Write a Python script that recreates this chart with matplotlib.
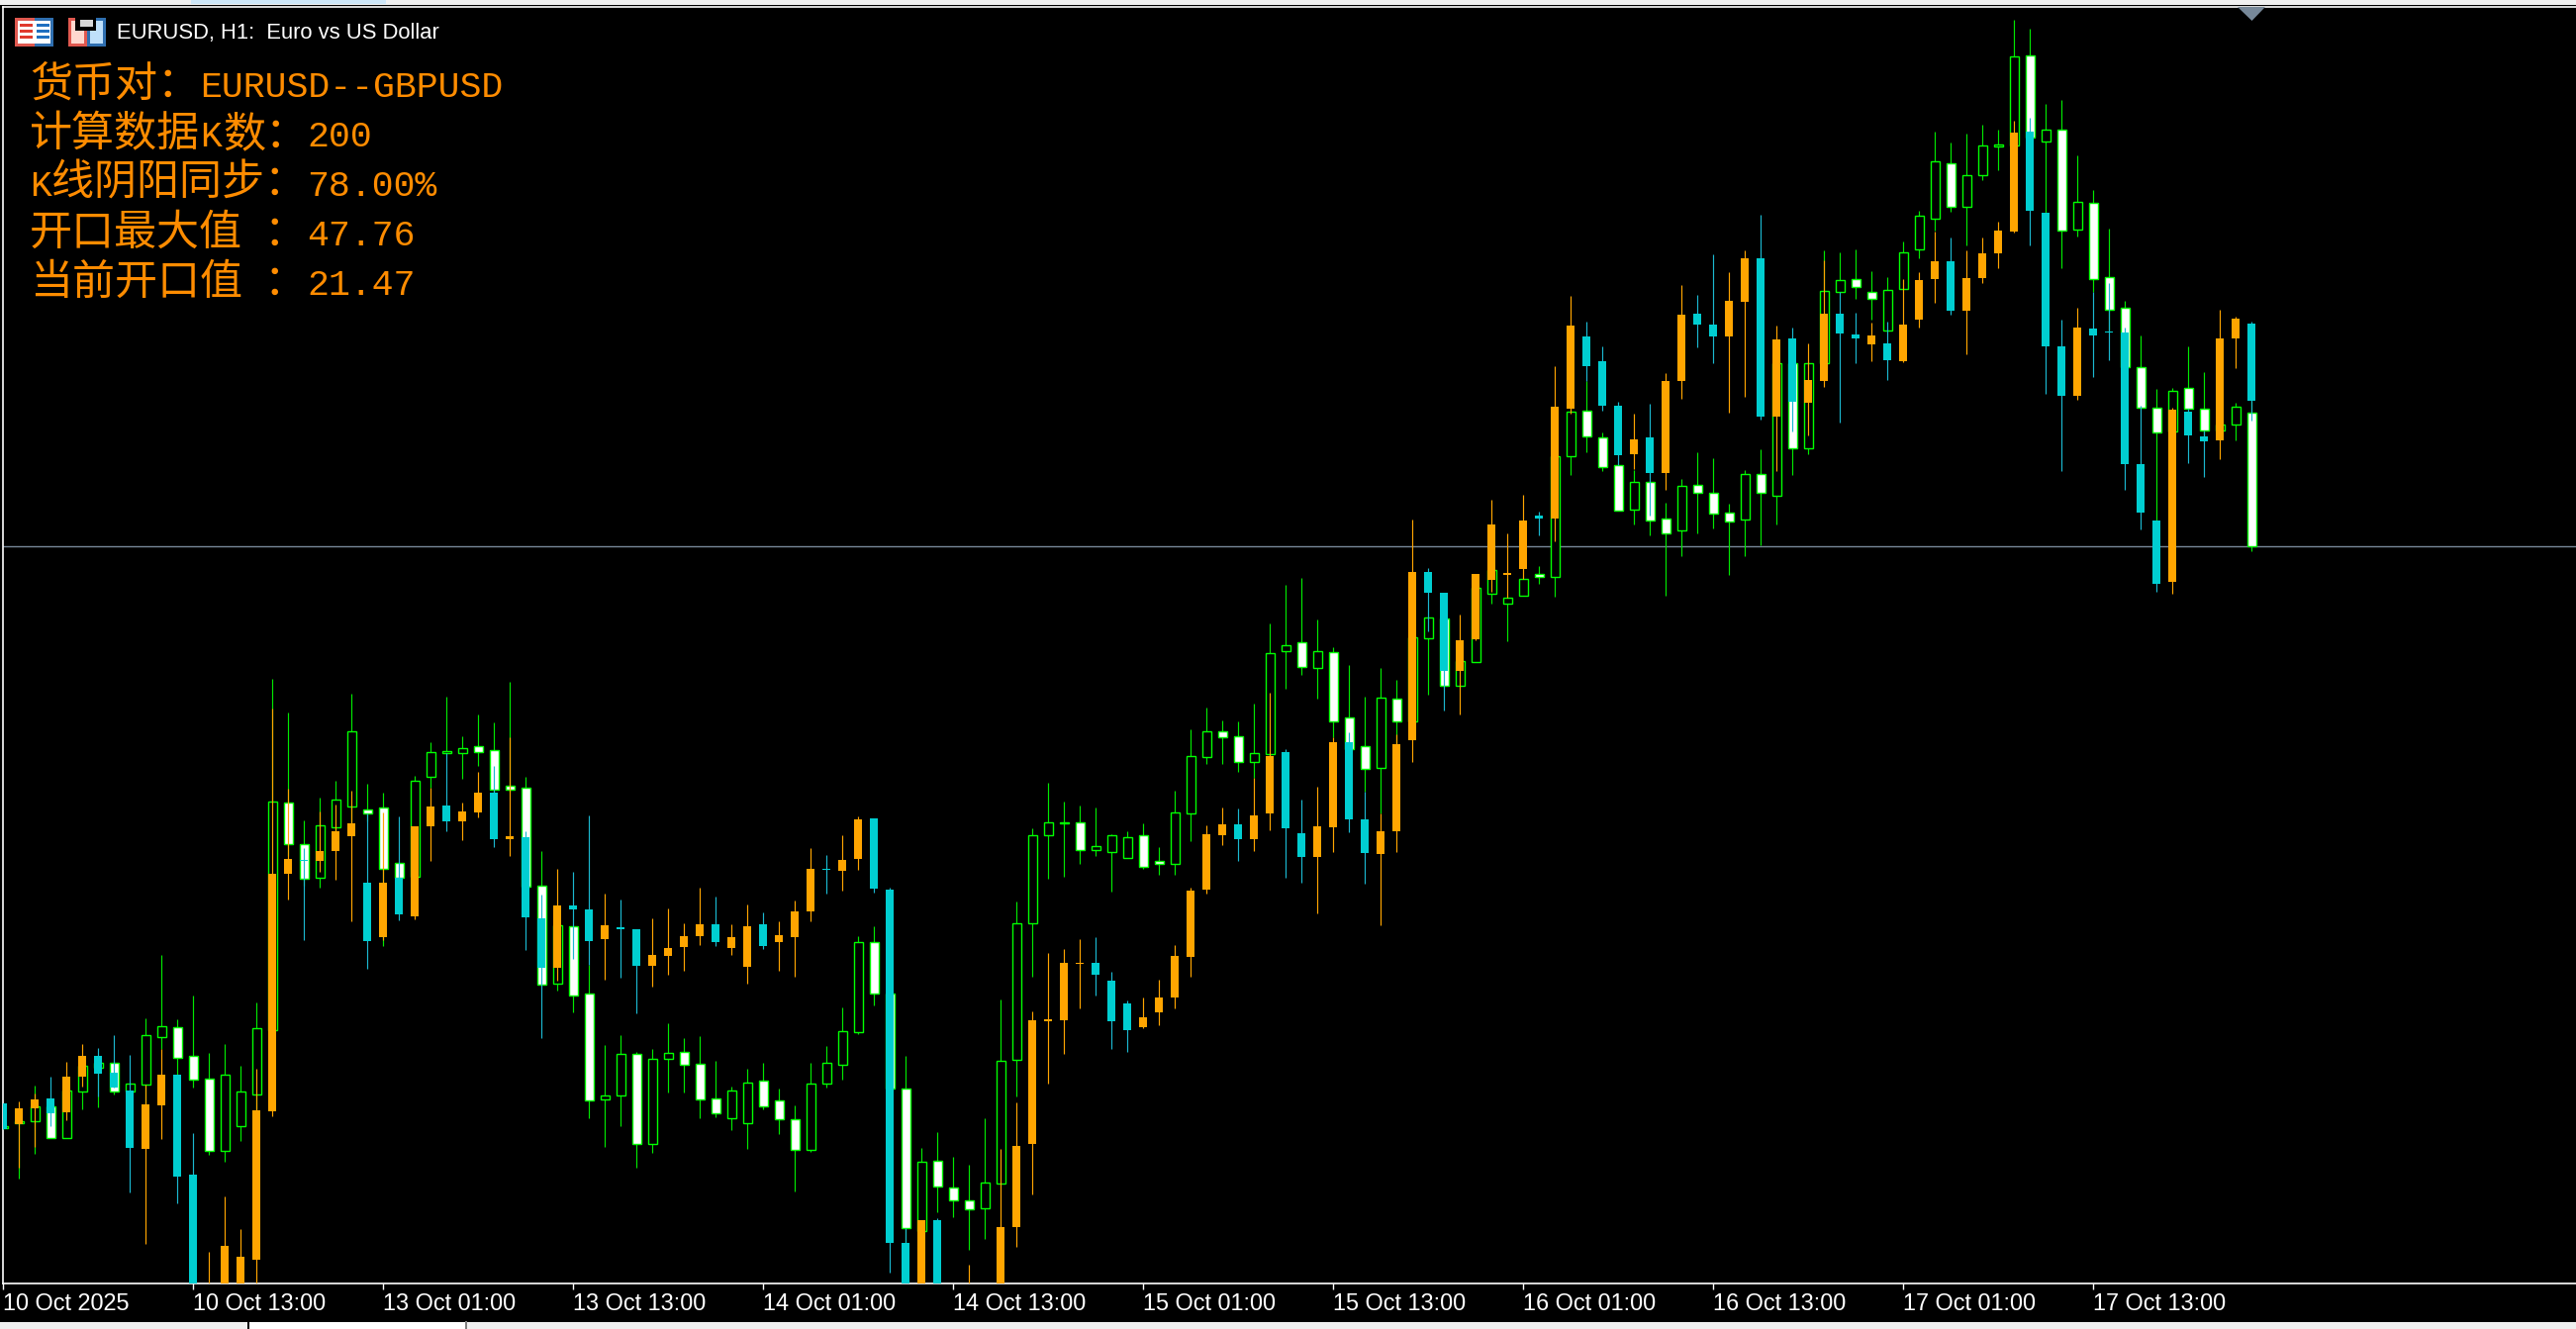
import matplotlib
matplotlib.use("Agg")
import matplotlib.pyplot as plt
from matplotlib.patches import Rectangle, Polygon

# levels are read off the screenshot, it has no price scale (smaller = higher on chart)
eur_dir = ("HHHWHHHWHH" "HWWWHHHHWW" "HHHWWWHHHH" "WWWWWHWWHH" "WHHWWWHHWW" "WHHHHWWWHW" "WWHHHHHHWH"
           "HHWWHHHWWH" "HHWHWWWHWH" "HWHHHHHWHH" "WWWHWWHWWW" "HWHWHHHWWH" "HHHWHHHHWH" "WHWWWWWHWW" "HHW")
eur_top = [1138,1133,1118,1118,1102,1077,1074,1074,1095,1046,
           1037,1038,1067,1090,1086,1103,1039,810,811,853,
           834,808,739,818,816,872,789,760,759,756,
           754,758,794,796,895,935,936,1004,1107,1065,
           1065,1070,1064,1063,1075,1110,1102,1094,1092,1112,
           1131,1095,1074,1042,952,952,1004,1100,1174,1173,
           1200,1213,1195,1072,933,844,831,831,831,855,
           844,846,844,870,821,764,739,739,744,761,
           660,652,649,658,659,725,754,705,706,644,
           624,625,668,594,576,604,585,580,461,416,
           415,442,470,487,487,524,491,490,498,518,
           479,479,367,367,367,294,283,282,295,293,
           255,218,163,165,177,147,146,57,56,131,
           131,204,205,280,311,371,412,395,392,413,
           429,411,417]
eur_bot = [1140,1135,1133,1150,1150,1103,1079,1103,1103,1096,
           1048,1069,1091,1163,1163,1138,1106,1041,853,888,
           887,836,815,822,878,887,886,785,761,761,
           760,798,798,896,995,994,1006,1112,1111,1107,
           1156,1156,1070,1076,1111,1125,1130,1135,1118,1131,
           1162,1162,1095,1076,1043,1004,1100,1241,1244,1199,
           1213,1222,1221,1196,1071,933,844,832,859,859,
           861,867,876,873,873,822,765,745,770,770,
           762,658,674,675,729,757,777,776,729,729,
           645,693,693,669,600,610,602,583,583,461,
           441,472,516,515,526,539,536,498,519,527,
           525,498,501,453,453,367,295,290,302,334,
           292,252,221,209,209,177,148,147,139,143,
           233,232,282,313,371,412,437,436,413,435,
           435,429,552]
eur_high = [1138,1133,1097,1118,1102,1077,1074,1074,1095,1029,
            965,1030,1006,1064,1055,1077,1013,686,720,829,
            806,789,701,792,801,872,784,750,704,744,
            722,730,689,785,860,935,936,975,1056,1046,
            1063,1060,1034,1049,1047,1072,1098,1080,1074,1100,
            1117,1074,1057,1018,946,936,1004,1067,1160,1144,
            1169,1177,1130,1010,911,837,791,810,814,816,
            843,840,832,856,799,737,715,728,729,711,
            630,591,584,626,654,672,704,675,687,644,
            624,625,668,594,576,604,585,572,461,416,
            385,437,470,475,487,508,484,457,463,509,
            475,454,367,367,367,253,255,252,274,280,
            244,213,133,144,135,126,131,20,29,105,
            101,157,192,231,304,339,393,392,350,376,
            429,407,405]
eur_low = [1140,1191,1166,1150,1150,1121,1119,1106,1103,1116,
           1060,1086,1099,1167,1174,1153,1122,1041,865,895,
           897,840,832,830,956,887,886,796,761,787,
           774,801,800,896,995,1001,1023,1130,1159,1138,
           1180,1165,1104,1104,1130,1129,1142,1161,1121,1146,
           1204,1164,1099,1091,1045,1016,1100,1256,1244,1225,
           1230,1263,1252,1196,1108,987,888,886,873,865,
           901,867,878,884,884,850,772,772,780,786,
           764,696,682,706,745,757,800,822,752,729,
           702,693,693,669,610,648,602,590,603,480,
           457,476,516,530,541,602,562,539,534,581,
           562,551,530,480,459,367,295,302,323,334,
           292,261,233,214,248,182,172,147,139,215,
           271,239,295,336,372,412,526,436,413,441,
           435,445,557]

gbp_dir = ("COOCOOCCCO" "OCCOOOOOOC" "OOOCOCOOCO" "OCOCCOCCOC" "COOOOCOOCO" "OOCOOCCCOC" "OOOOOOOOOC"
           "CCOOOOOOCO" "OCCOOCCOOO" "CCOOOOOCOO" "CCCOCOOCCO" "OCOCOOCCOC" "OOOCOOOOCC" "COCCCCCOCC" "OOC")
gbp_top = [1115,1120,1111,1110,1088,1067,1067,1084,1102,1116,
           1086,1086,1187,1310,1259,1270,1122,883,868,869,
           860,840,832,892,892,887,835,815,814,820,
           801,801,845,846,928,915,915,919,935,937,
           939,965,958,946,934,934,947,936,934,945,
           921,878,878,869,828,827,899,1256,1233,1233,
           1310,1300,1310,1240,1158,1031,1030,973,973,973,
           991,1014,1028,1008,966,900,843,833,833,824,
           764,760,842,835,750,750,828,840,752,578,
           578,599,647,580,530,579,526,521,411,329,
           340,365,410,444,442,385,318,317,328,304,
           261,261,343,342,384,317,317,338,339,347,
           328,283,264,264,281,256,233,134,133,215,
           350,331,332,335,336,469,526,414,416,441,
           342,322,327]
gbp_bot = [1141,1136,1120,1125,1124,1088,1085,1099,1160,1161,
           1117,1189,1320,1330,1330,1330,1273,1123,883,870,
           870,860,845,951,947,924,926,835,830,830,
           821,848,848,927,978,978,919,951,949,939,
           976,976,966,957,946,952,958,977,956,952,
           947,921,879,880,868,898,1256,1330,1330,1330,
           1330,1330,1330,1330,1240,1156,1032,1031,974,985,
           1032,1041,1038,1023,1008,967,899,844,848,848,
           822,837,866,866,836,828,862,863,840,748,
           599,678,678,646,586,581,575,524,524,413,
           370,410,460,459,478,478,385,328,340,340,
           305,421,421,406,407,385,337,342,348,364,
           365,323,282,314,314,281,256,234,213,350,
           400,400,339,336,469,518,590,588,440,446,
           445,342,405]
gbp_high = [1115,1113,1105,1088,1073,1055,1059,1046,1066,1096,
            1060,1086,1145,1265,1209,1242,1080,716,797,857,
            820,813,799,822,821,825,835,796,761,811,
            780,774,745,840,904,878,881,824,903,909,
            939,928,918,933,897,906,934,914,922,931,
            910,857,864,844,825,827,897,1241,1233,1231,
            1305,1278,1305,1161,1114,1022,963,959,949,947,
            982,1011,1008,990,955,897,834,816,817,786,
            700,757,808,795,745,740,800,822,742,525,
            574,599,621,580,505,539,500,517,370,299,
            325,350,406,418,408,377,288,298,257,275,
            253,217,329,331,347,263,295,316,326,325,
            282,275,234,240,253,240,224,122,119,215,
            323,311,295,286,331,410,526,412,413,435,
            313,320,325]
gbp_low = [1141,1180,1159,1138,1132,1098,1108,1099,1205,1257,
           1151,1216,1340,1340,1340,1340,1320,1128,909,950,
           881,889,931,979,950,930,929,870,840,849,
           826,856,865,960,1049,991,969,975,990,988,
           1024,997,985,981,955,956,965,994,959,981,
           987,931,903,900,879,902,1286,1340,1340,1340,
           1340,1340,1340,1340,1260,1207,1095,1065,1019,1006,
           1060,1063,1039,1036,1019,987,903,854,870,860,
           839,887,892,923,861,841,893,935,861,770,
           638,718,722,647,598,604,585,541,547,418,
           385,415,470,474,521,495,403,351,367,417,
           401,424,476,436,440,391,427,367,365,384,
           366,331,306,318,358,286,271,235,248,398,
           476,404,381,364,495,535,598,600,468,482,
           464,372,425]

bid_level = 552
tick_idx = [0, 12, 24, 36, 48, 60, 72, 84, 96, 108, 120, 132]
tick_labels = ["10 Oct 2025", "10 Oct 13:00", "13 Oct 01:00", "13 Oct 13:00", "14 Oct 01:00", "14 Oct 13:00",
               "15 Oct 01:00", "15 Oct 13:00", "16 Oct 01:00", "16 Oct 13:00", "17 Oct 01:00", "17 Oct 13:00"]

W, H = 2603, 1343
SLATE = "#778899"
TEXT_ORANGE = "#FF8C00"
CJK = ["Noto Sans CJK SC", "DejaVu Sans"]
MONO = ["Liberation Mono", "DejaVu Sans Mono"]

fig = plt.figure(figsize=(W / 100, H / 100), dpi=100, facecolor="black")


def box(x0, y0, x1, y1, color, z=1):
    # pixel box on the figure, y from the top
    fig.add_artist(Rectangle((x0 / W, 1 - y1 / H), (x1 - x0) / W, (y1 - y0) / H, transform=fig.transFigure,
                             facecolor=color, edgecolor="none", zorder=z))


def label(x, y, s, size, color, family, va="baseline"):
    fig.text(x / W, 1 - y / H, s, fontsize=size, color=color, family=family, ha="left", va=va, zorder=10)


# main chart, one index step = 16 px
left, right, top, bottom = 3, W, 7, 1297
ax = fig.add_axes([left / W, 1 - bottom / H, (right - left) / W, (bottom - top) / H], facecolor="black")
ax.set_xlim((left - 3.33) / 16, (right - 3.33) / 16)
ax.set_ylim(bottom, top)

idx = list(range(len(eur_top)))
eur_face = ["white" if d == "W" else "black" for d in eur_dir]
ax.vlines(idx, eur_high, eur_low, color="#00E800", lw=0.85, zorder=2)
ax.bar(idx, [b - t for t, b in zip(eur_top, eur_bot)], bottom=eur_top, width=0.6, color=eur_face,
       edgecolor="#00FF00", linewidth=1.0, zorder=3)

gbp_col = ["#00CED1" if d == "C" else "#FFA500" for d in gbp_dir]
gbp_wick = ["#1BB8D0" if d == "C" else "#FFA500" for d in gbp_dir]
ax.vlines(idx, gbp_high, gbp_low, color=gbp_wick, lw=0.85, zorder=4)
ax.bar([i - 0.02 for i in idx], [b - t for t, b in zip(gbp_top, gbp_bot)], bottom=gbp_top, width=0.5,
       color=gbp_col, linewidth=0, zorder=5)

ax.axhline(bid_level, color=SLATE, lw=1.0, zorder=1)

ax.set_xticks(tick_idx)
ax.set_xticklabels(tick_labels, family=["Liberation Sans"], fontsize=16.9, color="white", ha="left")
ax.tick_params(axis="x", length=4, width=1, color="white", pad=2.5)
ax.set_yticks([])
for s in ax.spines.values():
    s.set_color("white")
    s.set_linewidth(1.2)
ax.spines["right"].set_visible(False)

# marker at the top of the last bar
fig.add_artist(Polygon([(2261 / W, 1 - 7 / H), (2289 / W, 1 - 7 / H), (2275.5 / W, 1 - 21 / H)],
                       transform=fig.transFigure, facecolor=SLATE, edgecolor="none", zorder=6))

# window chrome
box(0, 0, W, 5, "#F0F0F0")
box(193, 0, 390, 4, "#CDE6F7")
box(0, 1336, W, H, "#F0F0F0")
box(250, 1335, 252, H, "black", 2)
box(252, 1336, 470, H, "white", 2)
box(470, 1335, 472, H, "#808080", 2)

# header icons
box(15, 18, 35, 47, "#E0584F", 7)
box(35, 18, 54, 47, "#2F6FB0", 7)
box(18, 21, 51, 44, "white", 8)
for y in (24, 30, 36):
    box(20, y, 33, y + 3, "#E03A2E", 9)
    box(37, y, 50, y + 3, "#1F6FC0", 9)
box(69, 18, 88, 47, "#E0584F", 7)
box(88, 18, 107, 47, "#2F6FB0", 7)
box(72, 21, 85, 44, "#FFD8CF", 8)
box(91, 21, 104, 44, "#BFE0FA", 8)
box(76, 18, 97, 31, "black", 8)
box(81, 20, 94, 27, "#D8D8D8", 9)
box(91, 31, 104, 44, "#BFE0FA", 9)
box(97, 21, 104, 31, "#BFE0FA", 9)

label(118, 33, "EURUSD, H1:  Euro vs US Dollar", 15.85, "white", ["Liberation Sans"], va="center")

# info panel, cjk and latin runs are placed on their own
cjk_size, latin_size = 31, 26.3
rows = [
    (98, [(30, "货币对：", CJK, cjk_size), (202, "EURUSD--GBPUSD", MONO, latin_size)]),
    (148, [(30, "计算数据", CJK, cjk_size), (202, "K", MONO, latin_size), (225, "数：", CJK, cjk_size),
           (310, "200", MONO, latin_size)]),
    (198, [(30, "K", MONO, latin_size), (52, "线阴阳同步：", CJK, cjk_size), (310, "78.00%", MONO, latin_size)]),
    (248, [(30, "开口最大值", CJK, cjk_size), (267, "：", CJK, cjk_size), (310, "47.76", MONO, latin_size)]),
    (298, [(30, "当前开口值", CJK, cjk_size), (267, "：", CJK, cjk_size), (310, "21.47", MONO, latin_size)]),
]
for y, runs in rows:
    for x, s, fam, size in runs:
        label(x, y, s, size, TEXT_ORANGE, fam)

fig.savefig("out.png", dpi=100, facecolor="black")
